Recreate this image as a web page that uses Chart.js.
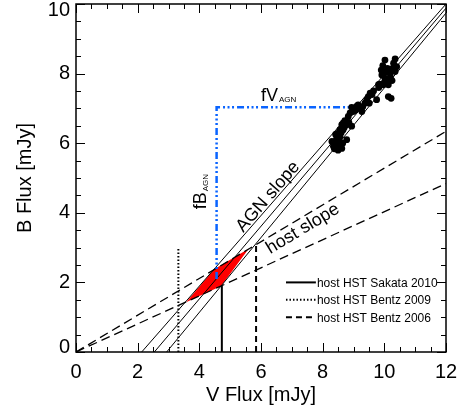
<!DOCTYPE html>
<html>
<head>
<meta charset="utf-8">
<script src="https://cdn.jsdelivr.net/npm/chart.js@4.4.1/dist/chart.umd.min.js"></script>
<style>
  html, body { margin: 0; padding: 0; background: #fff; }
  #wrap { width: 466px; height: 414px; }
</style>
</head>
<body>
<div id="wrap"><canvas id="c" width="466" height="414"></canvas></div>
<script>
// flux-flux points (mJy)
const fluxV = [
  8.35, 8.40, 8.46, 8.51, 8.62, 8.46, 8.56, 8.51, 8.56, 8.62, 8.67, 8.78, 8.78, 8.30, 8.42, 8.55,
  8.60, 8.70, 8.50, 8.65, 8.38, 8.58, 8.44, 8.66,
  8.94, 8.83, 8.89, 8.99, 8.94, 9.10, 9.27, 8.72, 8.85, 9.05, 9.20, 9.15,
  9.37, 9.51, 9.43, 9.48, 9.54, 9.75, 9.60, 9.30, 9.65, 9.82,
  9.81, 9.97, 10.13, 10.10, 10.02, 9.92, 10.18, 10.35, 10.27, 10.10, 9.95, 10.02, 10.35, 10.05,
  10.20, 10.40, 10.00, 10.25, 9.90, 10.30,
  10.13, 10.22, 9.85
];
const fluxB = [
  5.91, 6.01, 5.87, 5.96, 5.85, 6.15, 6.20, 6.29, 6.39, 6.53, 6.58, 6.53, 6.10, 6.05, 6.25, 6.05,
  6.30, 6.45, 5.80, 6.00, 5.84, 5.92, 6.08, 6.38,
  6.49, 6.77, 6.87, 6.91, 7.03, 7.06, 6.91, 6.65, 6.60, 6.95, 7.00, 7.10,
  7.15, 7.15, 7.25, 7.34, 7.44, 7.25, 7.40, 7.05, 7.50, 7.60,
  7.68, 7.68, 7.68, 7.77, 7.87, 7.96, 8.01, 8.06, 8.15, 8.15, 8.23, 8.39, 8.42, 8.05,
  7.90, 8.20, 7.75, 7.80, 8.10, 8.30,
  7.34, 7.29, 7.70
];

// AGN slope fits: V where B = 0, and B reached at V = 12
const agnV0 = [2.13, 2.54, 2.94];
const agnB12 = [10.0, 9.88, 9.74];

// host slope lines from the origin: B reached at V = 12
const hostB12 = [6.34, 4.84];

// host galaxy V fluxes and the top of their markers
const hostLabels = ['host HST Sakata 2010', 'host HST Bentz 2009', 'host HST Bentz 2006'];
const hostV = [4.73, 3.32, 5.84];
const hostTop = [1.91, 3.0, 3.1];

// allowed host region (red)
const regionV = [3.57, 4.48, 5.60, 4.71];
const regionB = [1.43, 2.38, 2.97, 1.90];

// fV_AGN / fB_AGN guide
const guideV = [4.56, 4.56, 9.16];
const guideB = [2.1, 7.03, 7.03];

const FONT = "'Liberation Sans', Arial, Helvetica, sans-serif";
const toPts = (xs, ys) => xs.map((v, i) => ({x: v, y: ys[i]}));

const datasets = [];

datasets.push({
  label: 'points',
  data: toPts(fluxV, fluxB),
  showLine: false,
  pointRadius: 3.4,
  pointBackgroundColor: '#000',
  pointBorderWidth: 0,
  order: 0,
});

agnV0.forEach((v0, i) => {
  datasets.push({
    label: 'agn' + i,
    data: [{x: v0, y: 0}, {x: 12, y: agnB12[i]}],
    showLine: true,
    borderColor: '#000',
    borderWidth: 1,
    pointRadius: 0,
    order: 3,
  });
});

hostB12.forEach((b, i) => {
  datasets.push({
    label: 'host' + i,
    data: [{x: 0, y: 0}, {x: 12, y: b}],
    showLine: true,
    borderColor: '#000',
    borderWidth: 1.3,
    borderDash: [9, 5],
    pointRadius: 0,
    order: 3,
  });
});

const hostDash = [[], [1.5, 2], [6, 4]];
hostV.forEach((v, i) => {
  datasets.push({
    label: hostLabels[i],
    data: [{x: v, y: 0}, {x: v, y: hostTop[i]}],
    showLine: true,
    borderColor: '#000',
    borderWidth: 2,
    borderDash: hostDash[i],
    pointRadius: 0,
    order: 6,
  });
});

const region = toPts(regionV, regionB);
region.push(region[0]);
datasets.push({
  label: 'region',
  data: region,
  showLine: true,
  borderColor: '#ff0000',
  borderWidth: 0,
  backgroundColor: '#ff0000',
  fill: 'shape',
  pointRadius: 0,
  order: 5,
});

datasets.push({
  label: 'guide',
  data: toPts(guideV, guideB),
  showLine: true,
  borderColor: '#0a64ff',
  borderWidth: 2.5,
  borderDash: [7, 3, 2, 2.5, 2, 2.5, 2, 3],
  pointRadius: 0,
  order: 2,
});

// IDL-style frame with inward ticks on all four sides
const frameTicks = {
  id: 'frameTicks',
  beforeDraw(chart) {
    // pull the end labels of the B axis inside the frame, as in the original
    const y = chart.scales.y;
    const items = y.getLabelItems(chart.chartArea);
    items.forEach(it => {
      const t = it.options.translation;
      if (it.label === '10') t[1] += 6;
      if (it.label === '0') t[1] -= 5;
    });
  },
  afterDatasetsDraw(chart) {
    const {ctx, chartArea: a, scales: {x, y}} = chart;
    ctx.save();
    ctx.strokeStyle = '#000';
    ctx.lineWidth = 1;
    ctx.beginPath();
    for (let v = 0; v <= 12.001; v += 0.5) {
      const px = Math.round(x.getPixelForValue(v)) + 0.5;
      const len = v % 2 === 0 ? 9 : 5;
      ctx.moveTo(px, a.bottom); ctx.lineTo(px, a.bottom - len);
      ctx.moveTo(px, a.top); ctx.lineTo(px, a.top + len);
    }
    for (let v = 0; v <= 10.001; v += 0.5) {
      const py = Math.round(y.getPixelForValue(v)) + 0.5;
      const len = v % 2 === 0 ? 9 : 5;
      ctx.moveTo(a.left, py); ctx.lineTo(a.left + len, py);
      ctx.moveTo(a.right, py); ctx.lineTo(a.right - len, py);
    }
    ctx.stroke();
    ctx.lineWidth = 1.5;
    ctx.strokeRect(a.left, a.top, a.right - a.left, a.bottom - a.top);
    ctx.restore();
  }
};

// text labels and the in-plot legend
const notes = {
  id: 'notes',
  afterDraw(chart) {
    const {ctx, scales: {x, y}} = chart;
    ctx.save();
    ctx.fillStyle = '#000';

    // AGN slope
    ctx.save();
    ctx.translate(x.getPixelForValue(6.23), y.getPixelForValue(4.46));
    ctx.rotate(-49 * Math.PI / 180);
    ctx.font = '18px ' + FONT;
    ctx.textAlign = 'center';
    ctx.textBaseline = 'middle';
    ctx.fillText('AGN slope', 0, 0);
    ctx.restore();

    // host slope
    ctx.save();
    ctx.translate(x.getPixelForValue(7.36), y.getPixelForValue(3.54));
    ctx.rotate(-31 * Math.PI / 180);
    ctx.font = '18px ' + FONT;
    ctx.textAlign = 'center';
    ctx.textBaseline = 'middle';
    ctx.fillText('host slope', 0, 0);
    ctx.restore();

    // fV_AGN
    ctx.textAlign = 'left';
    ctx.textBaseline = 'alphabetic';
    ctx.font = '18px ' + FONT;
    const fvX = x.getPixelForValue(6.0), fvY = y.getPixelForValue(7.2);
    ctx.fillText('fV', fvX, fvY);
    const fvW = ctx.measureText('fV').width;
    ctx.font = '8px ' + FONT;
    ctx.fillText('AGN', fvX + fvW + 1, fvY + 1);

    // fB_AGN (rotated)
    ctx.save();
    ctx.translate(x.getPixelForValue(4.22), y.getPixelForValue(4.1));
    ctx.rotate(-Math.PI / 2);
    ctx.font = '18px ' + FONT;
    ctx.fillText('fB', 0, 0);
    const fbW = ctx.measureText('fB').width;
    ctx.font = '8px ' + FONT;
    ctx.fillText('AGN', fbW + 1, 2);
    ctx.restore();

    // legend
    const lx0 = x.getPixelForValue(6.81), lx1 = x.getPixelForValue(7.78);
    const rowsB = [2.0, 1.5, 1.0];
    ctx.font = '12px ' + FONT;
    ctx.textBaseline = 'middle';
    hostLabels.forEach((lab, i) => {
      const py = y.getPixelForValue(rowsB[i]);
      ctx.beginPath();
      ctx.setLineDash(hostDash[i]);
      ctx.lineWidth = 2;
      ctx.strokeStyle = '#000';
      ctx.moveTo(lx0, py);
      ctx.lineTo(lx1, py);
      ctx.stroke();
      ctx.setLineDash([]);
      ctx.fillText(lab, lx1 + 1, py + 1);
    });
    ctx.restore();
  }
};

new Chart(document.getElementById('c'), {
  type: 'scatter',
  data: {datasets},
  options: {
    responsive: false,
    animation: false,
    events: [],
    layout: {padding: {top: 2, right: 20, left: 0, bottom: 0}},
    plugins: {legend: {display: false}, tooltip: {enabled: false}},
    scales: {
      x: {
        type: 'linear',
        min: 0,
        max: 12,
        ticks: {stepSize: 2, color: '#000', padding: 8, font: {size: 20, family: FONT}},
        grid: {display: false, drawTicks: false},
        border: {display: false},
        title: {display: true, text: 'V Flux [mJy]', color: '#000',
                font: {size: 20, family: FONT}, padding: {top: 0, bottom: 7}},
        afterFit(s) { s.height = 62; }
      },
      y: {
        type: 'linear',
        min: 0,
        max: 10,
        ticks: {stepSize: 2, color: '#000', padding: 6, font: {size: 20, family: FONT}},
        grid: {display: false, drawTicks: false},
        border: {display: false},
        title: {display: true, text: 'B Flux [mJy]', color: '#000',
                font: {size: 20, family: FONT}, padding: {top: 13, bottom: 0}},
        afterFit(s) { s.width = 76; s.paddingTop = 0; s.paddingBottom = 0; }
      }
    }
  },
  plugins: [frameTicks, notes]
});
</script>
</body>
</html>
